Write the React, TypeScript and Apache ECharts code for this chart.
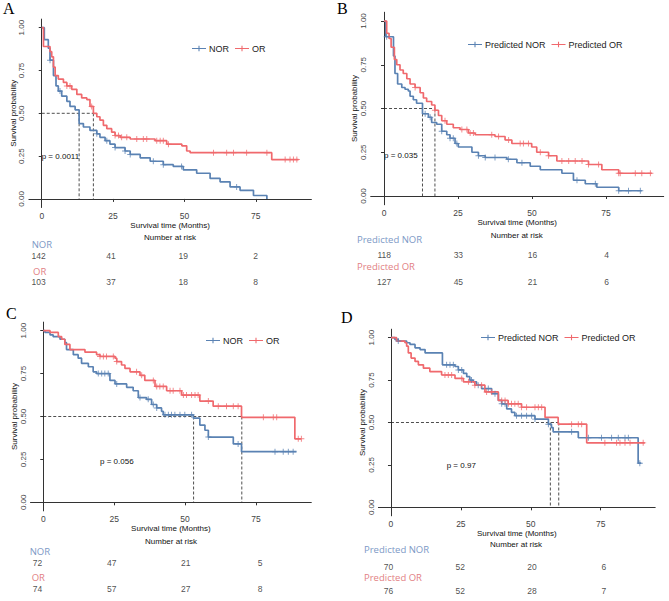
import React, { useEffect, useRef } from "react";
import * as echarts from "echarts";

const xTicks = [0, 25, 50, 75];
const yTicks = [0, 0.25, 0.5, 0.75, 1];
const riskTimes = [0, 25, 50, 75];

// ---- Panel A ----
const aNorT = [0, 0.9, 2.3, 2.9, 4.1, 5.0, 5.8, 7.0, 8.8, 9.9, 11.7, 13.1, 14.6, 16.9, 19.3, 20.4, 22.2, 23.9, 25.7, 29.2, 31, 34.5, 38, 42.6, 46.1, 49.6, 54.3, 59, 62.5, 66, 69.5, 74.2, 78.9];
const aNorS = [1, 0.93, 0.88, 0.81, 0.72, 0.66, 0.63, 0.6, 0.57, 0.54, 0.52, 0.44, 0.42, 0.4, 0.38, 0.36, 0.34, 0.32, 0.3, 0.28, 0.26, 0.24, 0.22, 0.2, 0.19, 0.17, 0.15, 0.12, 0.1, 0.07, 0.05, 0.02, 0.0];
const aOrT = [0, 0.6, 2.9, 3.5, 4.1, 4.7, 5.8, 7.6, 8.8, 10.5, 12.3, 14, 15.8, 16.9, 18.1, 19.3, 20.4, 21.6, 22.8, 24.5, 25.7, 27.5, 31, 39.7, 43.8, 49.1, 50.8, 52, 80.6, 90];
const aOrS = [1, 0.89, 0.86, 0.83, 0.77, 0.72, 0.7, 0.68, 0.66, 0.64, 0.61, 0.59, 0.58, 0.54, 0.5, 0.48, 0.46, 0.43, 0.41, 0.39, 0.37, 0.36, 0.35, 0.34, 0.32, 0.31, 0.28, 0.27, 0.23, 0.23];
const aNorCens = [2.9, 6.4, 19.3, 22.8, 25.7, 29.2, 31, 39.1, 42.6, 49, 68.3];
const aOrCens = [8.8, 9.9, 17.5, 25.7, 26.9, 28, 29.8, 33.3, 35.6, 36.8, 40.3, 41.5, 42.6, 44.4, 60.2, 64.8, 67.2, 71.8, 78.9, 85.3, 87, 88.2, 89.4];
const aMedians = [13.1, 18.1];
const aRiskNor = [142, 41, 19, 2];
const aRiskOr = [103, 37, 18, 8];

// ---- Panel B ----
const bNorT = [0, 0.6, 3.2, 3.7, 4.6, 6, 7.1, 8.2, 8.8, 9.9, 11, 13, 15, 16.1, 17.8, 19.5, 21.2, 22.3, 24, 25.1, 29.7, 31.9, 34.2, 41.5, 44.9, 49.4, 52.8, 60.1, 64, 68, 71.9, 79.3, 87.1];
const bNorS = [1, 0.91, 0.8, 0.7, 0.64, 0.62, 0.61, 0.6, 0.57, 0.55, 0.53, 0.47, 0.45, 0.42, 0.41, 0.37, 0.35, 0.33, 0.3, 0.28, 0.25, 0.23, 0.22, 0.21, 0.19, 0.17, 0.15, 0.13, 0.09, 0.07, 0.05, 0.03, 0.03];
const bOrT = [0, 0.9, 1.7, 2.4, 3.5, 4.3, 5.4, 6.5, 7.7, 8.8, 10.5, 12.2, 13.3, 14.4, 16.1, 17.2, 18.4, 19.5, 21.2, 23.4, 25.7, 28.5, 30.8, 37.5, 40.9, 43.2, 49.9, 51.6, 55.6, 58.4, 69.1, 73.6, 79.3, 90.5];
const bOrS = [1, 0.93, 0.9, 0.85, 0.78, 0.75, 0.72, 0.7, 0.67, 0.64, 0.62, 0.59, 0.56, 0.54, 0.52, 0.49, 0.46, 0.43, 0.41, 0.39, 0.38, 0.36, 0.35, 0.34, 0.32, 0.3, 0.28, 0.25, 0.23, 0.2, 0.18, 0.15, 0.13, 0.13];
const bNorCens = [0.9, 13.9, 15.6, 19.5, 22.3, 23.4, 24.6, 31.9, 34.2, 37.5, 42, 46.6, 65.2, 71.4, 79.3, 82.6, 86.6];
const bOrCens = [10.5, 17.2, 20.6, 26.3, 28, 29.1, 30.2, 36.4, 38.7, 42.1, 46, 47.1, 48.8, 52.8, 55.6, 60.1, 62.4, 64.6, 66.9, 69.1, 72.5, 79.3, 79.8, 84.9, 87.1, 90];
const bMedians = [13, 17.2];
const bRiskNor = [118, 33, 16, 4];
const bRiskOr = [127, 45, 21, 6];

// ---- Panel C ----
const cNorT = [0, 0.6, 2.4, 3.5, 5.9, 7.6, 8.2, 10.6, 12.3, 13.5, 15.9, 17.6, 18.8, 23.5, 25.3, 29.4, 31.7, 33.5, 36.4, 38.2, 40, 41.7, 42.3, 52.9, 55.2, 57, 58.2, 67, 69.9, 89.3];
const cNorS = [1, 0.99, 0.975, 0.965, 0.95, 0.93, 0.89, 0.86, 0.84, 0.81, 0.79, 0.76, 0.75, 0.71, 0.69, 0.67, 0.65, 0.61, 0.6, 0.57, 0.55, 0.53, 0.51, 0.49, 0.45, 0.42, 0.38, 0.34, 0.295, 0.295];
const cOrT = [0, 2.4, 5.3, 6.5, 7.6, 9.4, 14.7, 18.8, 20, 25.3, 25.9, 27.6, 28.8, 30.6, 34.1, 35.8, 39.4, 43.5, 48.8, 55.2, 59.9, 69.9, 88.7, 91];
const cOrS = [1, 0.99, 0.965, 0.95, 0.92, 0.89, 0.875, 0.86, 0.85, 0.84, 0.82, 0.8, 0.78, 0.76, 0.74, 0.71, 0.675, 0.65, 0.625, 0.59, 0.56, 0.495, 0.37, 0.37];
const cNorCens = [19.4, 20.6, 21.7, 22.9, 25.9, 34.1, 37, 38.8, 40, 42.9, 44.1, 45.2, 46.4, 48.2, 49.9, 52.3, 58.2, 68.7, 81.7, 84.6, 86.4, 88.1];
const cOrCens = [20, 21.2, 22.3, 24.7, 25.9, 32.9, 34.7, 38.8, 40, 41.1, 42.3, 44.7, 45.8, 48.2, 49.4, 50.5, 52.3, 53.5, 54.6, 58.2, 61.7, 64.6, 67, 68.7, 77.6, 81.1, 82.3, 89.9, 91];
const cMedians = [53, 70];
const cRiskNor = [72, 47, 21, 5];
const cRiskOr = [74, 57, 27, 8];

// ---- Panel D ----
const dNorT = [0, 1.4, 2.6, 5.6, 6.8, 8.6, 10.4, 12.2, 18.4, 22.9, 24.1, 25.9, 27.1, 28.2, 29.4, 30.6, 32.4, 36, 38.4, 39.6, 41.4, 43.1, 44.3, 51.5, 56.3, 57.4, 58, 67, 88.4, 89.5];
const dNorS = [1, 0.99, 0.98, 0.97, 0.96, 0.94, 0.93, 0.91, 0.84, 0.83, 0.81, 0.79, 0.77, 0.75, 0.74, 0.72, 0.7, 0.67, 0.63, 0.61, 0.58, 0.56, 0.54, 0.52, 0.49, 0.47, 0.445, 0.41, 0.26, 0.26];
const dOrT = [0, 2, 5, 5.6, 6.2, 7.2, 8.6, 9.8, 11.6, 13.9, 18.1, 22.9, 25.9, 30, 33.6, 38.4, 41.9, 46.7, 55.1, 59.8, 70, 90.8];
const dOrS = [1, 0.98, 0.97, 0.95, 0.91, 0.88, 0.86, 0.84, 0.82, 0.8, 0.78, 0.76, 0.74, 0.72, 0.68, 0.63, 0.61, 0.59, 0.53, 0.49, 0.38, 0.38];
const dNorCens = [2.6, 19.9, 21.1, 22.3, 24.1, 25.3, 28.8, 31.2, 34.8, 37.2, 39.6, 40.8, 44.9, 46.7, 48.5, 50.3, 51.5, 56.3, 64.6, 70.6, 75.3, 78.9, 81.3, 83.7, 84.9, 89];
const dOrCens = [19.3, 20.5, 21.7, 25.3, 27.7, 30, 32.4, 34.2, 36, 39.6, 40.8, 42, 43.1, 44.3, 45.5, 46.7, 48.5, 51.5, 52.7, 53.9, 64.6, 67, 68.2, 76.5, 80.7, 81.9, 83.7, 85.5, 90.2];
const dMedians = [57, 60];
const dRiskNor = [70, 52, 20, 6];
const dRiskOr = [76, 52, 28, 7];

const pValues = ["p = 0.0011", "p = 0.035", "p = 0.056", "p = 0.97"];
const letters = ["A", "B", "C", "D"];
const groupNames = [["NOR", "OR"], ["Predicted NOR", "Predicted OR"], ["NOR", "OR"], ["Predicted NOR", "Predicted OR"]];

const BLUE = "#5A82B3";
const RED = "#F0696D";
const BLUE_LBL = "#7D99C6";
const RED_LBL = "#E27F84";

const panels = [
  { norT: aNorT, norS: aNorS, orT: aOrT, orS: aOrS, norC: aNorCens, orC: aOrCens, med: aMedians, rN: aRiskNor, rO: aRiskOr,
    grid: { left: 28.9, top: 19.1, width: 282.5, height: 188.4 }, risk: { left: 25.5, top: 256, width: 286.7, height: 26 },
    legend: { left: 187, top: 39 }, letter: [3, 0], p: [41.7, 156], nar: [170, 237], lbN: [31.7, 244], lbO: [33, 271], nameGapY: 10, nameGapX: 12.5 },
  { norT: bNorT, norS: bNorS, orT: bOrT, orS: bOrS, norC: bNorCens, orC: bOrCens, med: bMedians, rN: bRiskNor, rO: bRiskOr,
    grid: { left: 370.7, top: 12.25, width: 293, height: 192.5 }, risk: { left: 370.85, top: 255, width: 293.7, height: 27 },
    legend: { left: 463, top: 35 }, letter: [337, 0], p: [384, 155], nar: [516.7, 235], lbN: [357, 239], lbO: [357, 266], nameGapY: 12, nameGapX: 12 },
  { norT: cNorT, norS: cNorS, orT: cOrT, orS: cOrS, norC: cNorCens, orC: cOrCens, med: cMedians, rN: cRiskNor, rO: cRiskOr,
    grid: { left: 30.5, top: 322.1, width: 280.8, height: 188.8 }, risk: { left: 24.15, top: 563, width: 293.7, height: 26 },
    legend: { left: 201, top: 331 }, letter: [6, 305], p: [100, 461.7], nar: [171, 541], lbN: [29.7, 551], lbO: [31.7, 577], nameGapY: 11, nameGapX: 12 },
  { norT: dNorT, norS: dNorS, orT: dOrT, orS: dOrS, norC: dNorCens, orC: dOrCens, med: dMedians, rN: dRiskNor, rO: dRiskOr,
    grid: { left: 378.4, top: 329.2, width: 276.8, height: 186.6 }, risk: { left: 375.6, top: 566.5, width: 284.1, height: 24.5 },
    legend: { left: 476, top: 328 }, letter: [341, 309], p: [446.7, 465], nar: [516, 544], lbN: [364, 549], lbO: [364, 577.5], nameGapY: 10, nameGapX: 13 },
];

function survAt(T: number[], S: number[], t: number) {
  let v = S[0];
  for (let i = 0; i < T.length; i++) if (T[i] <= t) v = S[i];
  return v;
}

const CROSS = "path://M4.2,0H5.8V10H4.2Z M0,4.2H10V5.8H0Z";
const LEG_ICON = "path://M0,4H26V6H0Z M12,0H14V10H12Z";
const NARROW = "'Liberation Sans Narrow', 'Liberation Sans', Arial, sans-serif";
const SANS = "'Liberation Sans', Arial, sans-serif";
const LBLFONT = "'Open Sans', 'Noto Sans', sans-serif";

function buildOption() {
  const grids: any[] = [];
  const xAxes: any[] = [];
  const yAxes: any[] = [];
  const rGrids: any[] = [];
  const rxAxes: any[] = [];
  const ryAxes: any[] = [];
  const series: any[] = [];
  const legends: any[] = [];
  const graphics: any[] = [];

  panels.forEach((p, i) => {
    const [nNor, nOr] = groupNames[i];
    grids.push({ ...p.grid, containLabel: false });
    xAxes.push({
      type: "value", gridIndex: i, min: -4.5, max: 94.5,
      name: "Survival time (Months)", nameLocation: "middle", nameGap: p.nameGapX,
      nameTextStyle: { fontSize: 8, color: "#111", fontFamily: SANS },
      axisLine: { show: true, lineStyle: { color: "#333", width: 1 } },
      axisTick: { show: true, length: 3, lineStyle: { color: "#333" }, customValues: xTicks },
      axisLabel: { fontSize: 8.5, color: "#444", margin: 4, fontFamily: NARROW, customValues: xTicks },
      splitLine: { show: false },
    });
    yAxes.push({
      type: "value", gridIndex: i, min: -0.05, max: 1.05,
      name: "Survival probability", nameLocation: "middle", nameGap: p.nameGapY,
      nameTextStyle: { fontSize: 8, color: "#111", fontFamily: SANS },
      axisLine: { show: true, lineStyle: { color: "#333", width: 1 } },
      axisTick: { show: true, length: 3, lineStyle: { color: "#333" }, customValues: yTicks },
      axisLabel: { fontSize: 8, color: "#444", margin: 3, rotate: 90, fontFamily: NARROW, customValues: yTicks, formatter: (v: number) => v.toFixed(2) },
      splitLine: { show: false },
    });

    const mk = (T: number[], S: number[]) => T.map((t, k) => [t, S[k]]);
    series.push({ type: "line", name: nNor, xAxisIndex: i, yAxisIndex: i, step: "end", showSymbol: false, color: BLUE, lineStyle: { color: BLUE, width: 1.7 }, data: mk(p.norT, p.norS), z: 3 });
    series.push({ type: "line", name: nOr, xAxisIndex: i, yAxisIndex: i, step: "end", showSymbol: false, color: RED, lineStyle: { color: RED, width: 1.7 }, data: mk(p.orT, p.orS), z: 3 });
    series.push({ type: "scatter", name: nNor + " censor", xAxisIndex: i, yAxisIndex: i, symbol: CROSS, symbolSize: 6, itemStyle: { color: BLUE }, data: p.norC.map((t) => [t, survAt(p.norT, p.norS, t)]), z: 4 });
    series.push({ type: "scatter", name: nOr + " censor", xAxisIndex: i, yAxisIndex: i, symbol: CROSS, symbolSize: 6, itemStyle: { color: RED }, data: p.orC.map((t) => [t, survAt(p.orT, p.orS, t)]), z: 4 });

    const dash = { color: "#222", width: 0.8, type: [3, 2] };
    const mMax = Math.max(...p.med);
    series.push({ type: "line", name: "median-h-" + i, xAxisIndex: i, yAxisIndex: i, showSymbol: false, lineStyle: dash, data: [[0, 0.5], [mMax, 0.5]], z: 2 });
    p.med.forEach((m, k) => {
      series.push({ type: "line", name: "median-v-" + i + "-" + k, xAxisIndex: i, yAxisIndex: i, showSymbol: false, lineStyle: dash, data: [[m, 0.5], [m, 0]], z: 2 });
    });

    legends.push({
      data: [nNor, nOr], left: p.legend.left, top: p.legend.top, orient: "horizontal",
      icon: LEG_ICON, itemWidth: 14, itemHeight: 7, itemGap: 6,
      textStyle: { fontSize: 9, color: "#222", fontFamily: SANS, padding: [0, 0, 0, -2] },
      selectedMode: false,
    });

    // risk table grid
    const ri = 4 + i;
    rGrids.push({ ...p.risk, containLabel: false });
    rxAxes.push({ type: "value", gridIndex: ri, min: -4.5, max: 94.5, show: false });
    ryAxes.push({ type: "value", gridIndex: ri, min: 0, max: 1, show: false });
    const lbl = { show: true, position: "inside", fontSize: 8.5, lineHeight: 9, color: "#222", fontFamily: NARROW, formatter: (pr: any) => String(pr.value[2]) };
    series.push({ type: "scatter", name: "risk-n-" + i, xAxisIndex: ri, yAxisIndex: ri, symbolSize: 1, itemStyle: { color: "rgba(0,0,0,0)" }, label: lbl, data: riskTimes.map((t, k) => [t, 1, p.rN[k]]) });
    series.push({ type: "scatter", name: "risk-o-" + i, xAxisIndex: ri, yAxisIndex: ri, symbolSize: 1, itemStyle: { color: "rgba(0,0,0,0)" }, label: lbl, data: riskTimes.map((t, k) => [t, 0, p.rO[k]]) });

    graphics.push({ type: "text", x: p.letter[0], y: p.letter[1], style: { text: letters[i], fontSize: 16, fontFamily: "'Liberation Serif', 'Times New Roman', serif", fill: "#000", textVerticalAlign: "top" } });
    graphics.push({ type: "text", x: p.p[0], y: p.p[1], style: { text: pValues[i], fontSize: 8, fontFamily: SANS, fill: "#111", textVerticalAlign: "middle" } });
    graphics.push({ type: "text", x: p.nar[0], y: p.nar[1], style: { text: "Number at risk", fontSize: 8, fontFamily: SANS, fill: "#111", textAlign: "center", textVerticalAlign: "middle" } });
    graphics.push({ type: "text", x: p.lbN[0], y: p.lbN[1], style: { text: nNor, fontSize: 9.5, lineHeight: 10, fontFamily: LBLFONT, fill: BLUE_LBL, textVerticalAlign: "middle" } });
    graphics.push({ type: "text", x: p.lbO[0], y: p.lbO[1], style: { text: nOr, fontSize: 9.5, lineHeight: 10, fontFamily: LBLFONT, fill: RED_LBL, textVerticalAlign: "middle" } });
  });

  return {
    animation: false,
    backgroundColor: "#fff",
    grid: grids.concat(rGrids),
    xAxis: xAxes.concat(rxAxes),
    yAxis: yAxes.concat(ryAxes),
    legend: legends,
    series,
    graphic: graphics,
  };
}

export default function App() {
  const ref = useRef<HTMLDivElement>(null);
  useEffect(() => {
    if (!ref.current) return;
    const chart = echarts.init(ref.current, undefined, { renderer: "svg" });
    chart.setOption(buildOption() as any);
    return () => chart.dispose();
  }, []);
  return <div ref={ref} style={{ position: "fixed", left: 0, top: 0, width: 669, height: 601, background: "#fff" }} />;
}
